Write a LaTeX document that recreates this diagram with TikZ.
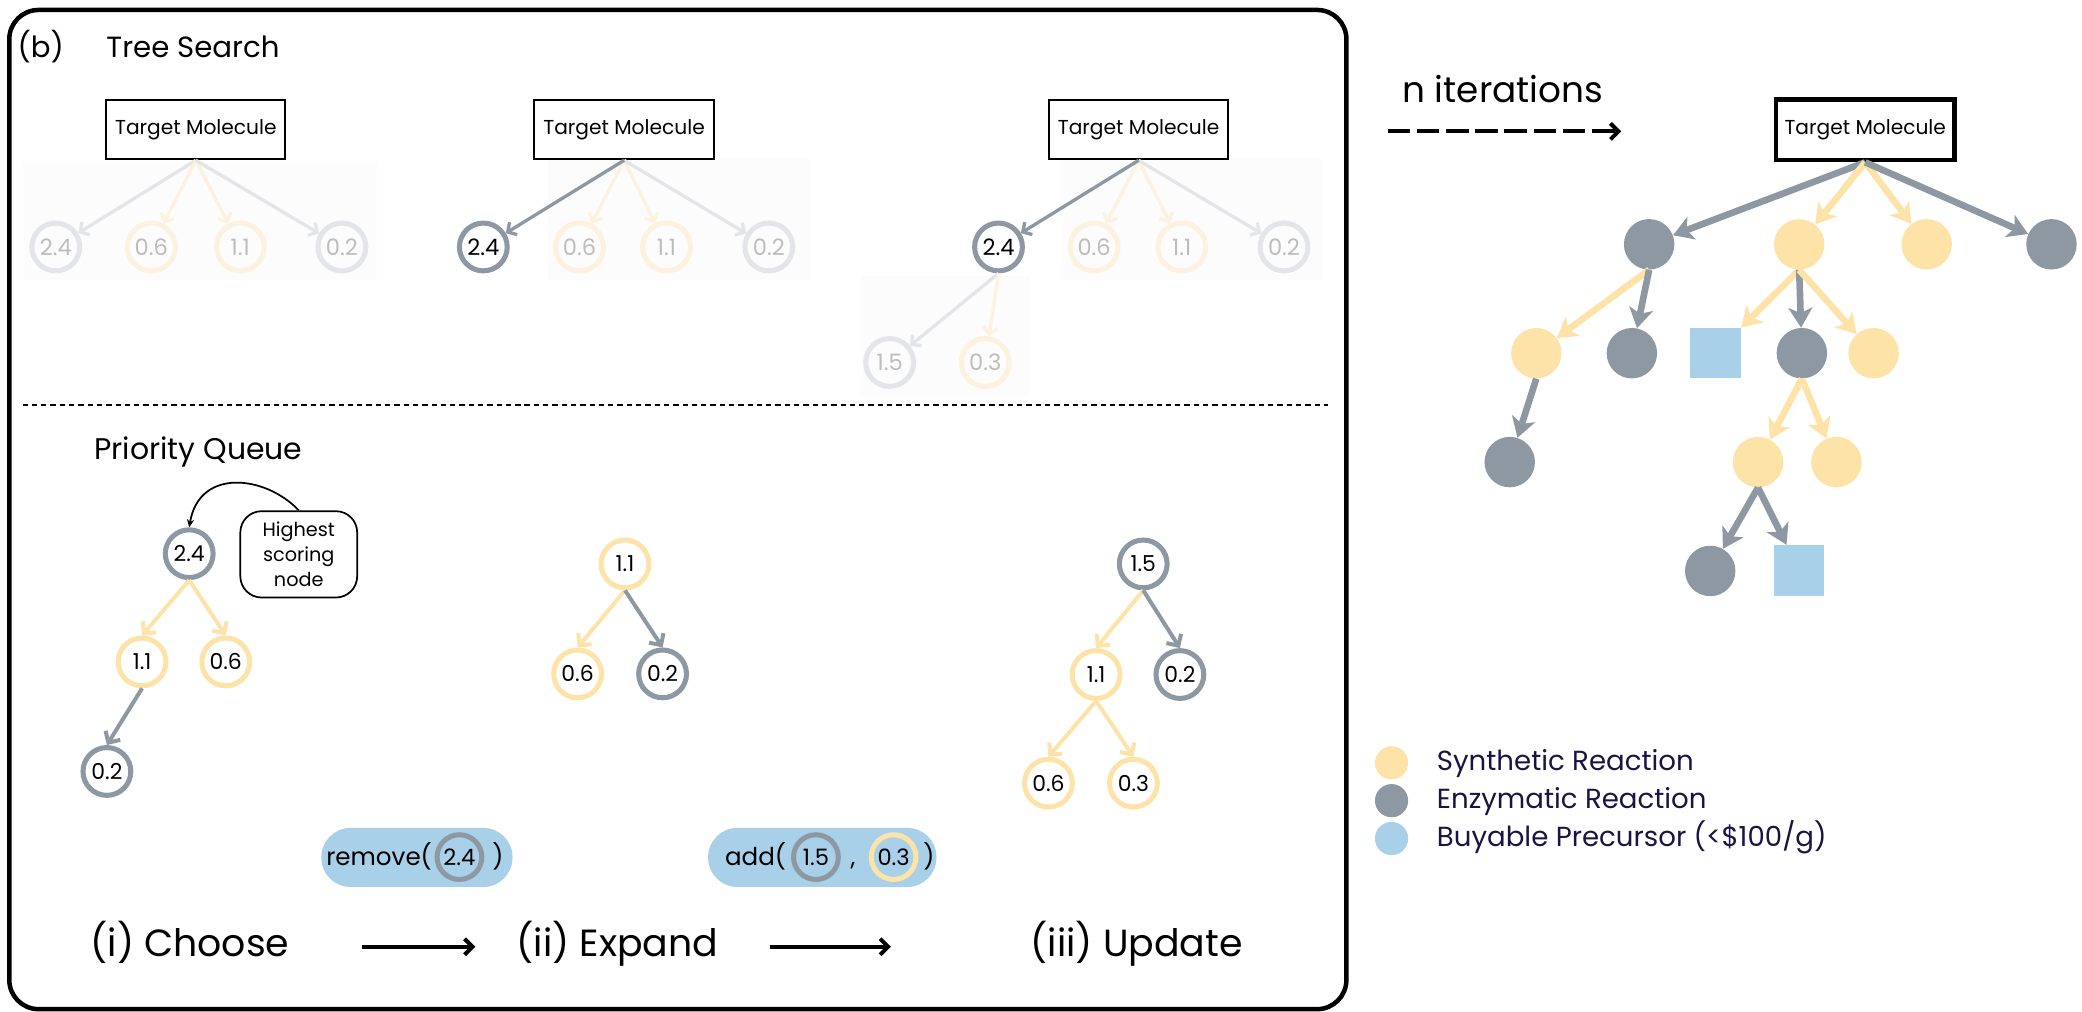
\documentclass[tikz,border=0pt]{standalone}
\usepackage{fontspec}
\setmainfont{Poppins}
\usetikzlibrary{arrows.meta}
\definecolor{cgray}{HTML}{8E98A2}
\definecolor{cyel}{HTML}{FEE3A9}
\definecolor{cblue}{HTML}{A9D0E9}
\definecolor{fgray}{HTML}{E3E5E8}
\definecolor{fyel}{HTML}{FDF2DF}
\definecolor{ftext}{HTML}{BDBDBD}
\definecolor{navy}{HTML}{1B1442}
\definecolor{bgfaint}{HTML}{FCFCFC}
\newcommand\fsz[1]{\fontsize{#1}{#1}\selectfont}
\begin{document}
\begin{tikzpicture}[x=1pt,y=-1pt,
  ring/.style={circle,draw,line width=3.8pt,minimum size=36pt,inner sep=0pt,font=\fsz{16.5}},
  gring/.style={ring,draw=cgray},
  yring/.style={ring,draw=cyel},
  fgring/.style={ring,draw=fgray,text=ftext,font=\fsz{17}},
  fyring/.style={ring,draw=fyel,text=ftext,font=\fsz{17}},
  sgring/.style={ring,draw=cgray,font=\fsz{17}},
  tbox/.style={draw,line width=1.5pt,minimum width=135pt,minimum height=45pt,inner sep=0pt,font=\fsz{15.2}},
  tedge/.style={line width=2.5pt,-{Straight Barb[length=5pt,width=11pt]}},
  qedge/.style={line width=3pt,-{Straight Barb[length=6.5pt,width=13pt]}},
  dotn/.style={circle,minimum size=38pt,inner sep=0pt},
  gdot/.style={dotn,fill=cgray},
  ydot/.style={dotn,fill=cyel},
  bsq/.style={rectangle,minimum size=38pt,inner sep=0pt,fill=cblue},
  bedge/.style={line width=5pt,-{Stealth[length=15pt,width=18pt,inset=4pt]}},
  pill/.style={rectangle,rounded corners=22pt,fill=cblue,minimum width=#1,minimum height=44.5pt,inner sep=0pt},
  ptext/.style={anchor=base,font=\fsz{18.5},inner sep=0pt},
  pring/.style={ring,minimum size=33.7pt,font=\fsz{17}},
  lbl/.style={anchor=base west,inner sep=0pt},
  legdot/.style={circle,minimum size=25pt,inner sep=0pt},
]
\useasboundingbox (0,0) rectangle (1568,762);

% frame and separator
\draw[line width=3.4pt,rounded corners=22pt] (7,7.5) rectangle (1014,760);
\draw[line width=1.2pt,dash pattern=on 4pt off 3pt] (17,305) -- (1000,305);

% faint backgrounds
\fill[bgfaint] (17,123) rectangle (284,211);
\fill[bgfaint] (413,120) rectangle (611,211);
\fill[bgfaint] (800,120) rectangle (996,211);
\fill[bgfaint] (649,208) rectangle (776,299);

% titles
\node[lbl,font=\fsz{22}] (blab) at (13,43) {(b)};
\node[lbl,font=\fsz{22}] (tslab) at (80,43) {Tree Search};
\node[lbl,font=\fsz{22.5}] (pqlab) at (71,346) {Priority Queue};

% ---------- tree 1
\node[tbox] (t1) at (147.5,97.5) {Target Molecule};
\node[fgring] (t1a) at (42,186) {2.4};
\node[fyring] (t1b) at (114,186) {0.6};
\node[fyring] (t1c) at (181,186) {1.1};
\node[fgring] (t1d) at (257.5,186) {0.2};
\draw[tedge,draw=fgray] (t1.south) -- (t1a);
\draw[tedge,draw=fyel] (t1.south) -- (t1b);
\draw[tedge,draw=fyel] (t1.south) -- (t1c);
\draw[tedge,draw=fgray] (t1.south) -- (t1d);

% ---------- tree 2
\node[tbox] (t2) at (470,97.5) {Target Molecule};
\node[sgring] (t2a) at (364,186) {2.4};
\node[fyring] (t2b) at (436.5,186) {0.6};
\node[fyring] (t2c) at (502,186) {1.1};
\node[fgring] (t2d) at (579,186) {0.2};
\draw[tedge,draw=fyel] (t2.south) -- (t2b);
\draw[tedge,draw=fyel] (t2.south) -- (t2c);
\draw[tedge,draw=fgray] (t2.south) -- (t2d);
\draw[tedge,draw=cgray] (t2.south) -- (t2a);

% ---------- tree 3
\node[tbox] (t3) at (857.5,97.5) {Target Molecule};
\node[sgring] (t3a) at (752,186) {2.4};
\node[fyring] (t3b) at (824,186) {0.6};
\node[fyring] (t3c) at (890,186) {1.1};
\node[fgring] (t3d) at (967,186) {0.2};
\node[fgring] (t3e) at (670,273) {1.5};
\node[fyring] (t3f) at (742,273) {0.3};
\draw[tedge,draw=fyel] (t3.south) -- (t3b);
\draw[tedge,draw=fyel] (t3.south) -- (t3c);
\draw[tedge,draw=fgray] (t3.south) -- (t3d);
\draw[tedge,draw=cgray] (t3.south) -- (t3a);
\draw[tedge,draw=fgray] (t3a.south) -- (t3e);
\draw[tedge,draw=fyel] (t3a.south) -- (t3f);

% ---------- (i) choose
\node[gring] (c24) at (142.5,417) {2.4};
\node[yring] (c11) at (107,498.5) {1.1};
\node[yring] (c06) at (170,498.5) {0.6};
\node[gring] (c02) at (80.5,581) {0.2};
\draw[qedge,draw=cyel] (c24.south) -- (c11.north);
\draw[qedge,draw=cyel] (c24.south) -- (c06.north);
\draw[qedge,draw=cgray] (c11.south) -- (c02.north);
\node[draw,line width=1.3pt,rounded corners=16pt,minimum width=88pt,minimum height=65pt,
  align=center,inner sep=0pt,font=\fontsize{14.5}{18.8}\selectfont] (call) at (225,417.5)
  {Highest\\scoring\\node};
\draw[line width=1.3pt,-{Stealth[length=6pt,width=5.5pt]}] (call.north)
  .. controls (200,358) and (150,352) .. (c24.north);

% ---------- (ii) expand
\node[yring] (e11) at (470.7,424.7) {1.1};
\node[yring] (e06) at (435,507.5) {0.6};
\node[gring] (e02) at (499,507.5) {0.2};
\draw[qedge,draw=cyel] (e11.south) -- (e06.north);
\draw[qedge,draw=cgray] (e11.south) -- (e02.north);

% ---------- (iii) update
\node[gring] (u15) at (861,424.7) {1.5};
\node[yring] (u11) at (825.5,508) {1.1};
\node[gring] (u02) at (888.6,508) {0.2};
\node[yring] (u06) at (789.6,589.8) {0.6};
\node[yring] (u03) at (853.6,589.8) {0.3};
\draw[qedge,draw=cyel] (u15.south) -- (u11.north);
\draw[qedge,draw=cgray] (u15.south) -- (u02.north);
\draw[qedge,draw=cyel] (u11.south) -- (u06.north);
\draw[qedge,draw=cyel] (u11.south) -- (u03.north);

% ---------- pills
\node[pill=144pt] (rmpill) at (314,645.75) {};
\node[ptext] (rmtxt) at (285.5,651.5) {remove(};
\node[pring,draw=cgray] (rm24) at (346,645.5) {2.4};
\node[ptext] (rmclose) at (375,651.5) {)};

\node[pill=172pt] (adpill) at (619.3,645.75) {};
\node[ptext] (adtxt) at (569,651.5) {add(};
\node[pring,draw=cgray] (ad15) at (614.5,645.5) {1.5};
\node[ptext] (adcomma) at (642.5,651.5) {,};
\node[pring,draw=cyel] (ad03) at (673,645.5) {0.3};
\node[ptext] (adclose) at (699.6,651.5) {)};

% ---------- step labels
\node[lbl,font=\fsz{28.5}] (s1) at (68,720.5) {(i) Choose};
\node[lbl,font=\fsz{28.5}] (s2) at (389,720.5) {(ii) Expand};
\node[lbl,font=\fsz{28.5}] (s3) at (776,720.5) {(iii) Update};
\coordinate (a1s) at (272.6,713);
\coordinate (a1e) at (358,713);
\coordinate (a2s) at (580,713);
\coordinate (a2e) at (671,713);
\draw[line width=3pt,-{Straight Barb[length=6pt,width=12pt]}] (a1s) -- (a1e);
\draw[line width=3pt,-{Straight Barb[length=6pt,width=12pt]}] (a2s) -- (a2e);

% ---------- right side
\node[lbl,font=\fsz{27}] (niter) at (1056,77) {n iterations};
\coordinate (da) at (1045,99);
\coordinate (db) at (1221,99);
\draw[line width=3pt,dash pattern=on 17pt off 5pt,-{Straight Barb[length=6pt,width=12pt]}] (da) -- (db);

\node[tbox,line width=3.5pt,minimum width=134.5pt,minimum height=45.5pt] (r) at (1404.75,97.75) {Target Molecule};
\node[gdot] (g1) at (1242,184) {};
\node[ydot] (y1) at (1355,184) {};
\node[ydot] (y2) at (1451,184) {};
\node[gdot] (g2) at (1545,184) {};
\node[ydot] (y3) at (1157,266) {};
\node[gdot] (g3) at (1229,266) {};
\node[bsq]  (s1q) at (1292,266) {};
\node[gdot] (g4) at (1357,266) {};
\node[ydot] (y4) at (1411,266) {};
\node[gdot] (g5) at (1137,348) {};
\node[ydot] (y5) at (1324,348) {};
\node[ydot] (y6) at (1383,348) {};
\node[gdot] (g6) at (1288,430) {};
\node[bsq]  (s2q) at (1355,429.5) {};

\draw[bedge,draw=cgray,fill=cgray] (r.south) -- (g1);
\draw[bedge,draw=cyel,fill=cyel] (r.south) -- (y1);
\draw[bedge,draw=cyel,fill=cyel] (r.south) -- (y2);
\draw[bedge,draw=cgray,fill=cgray] (r.south) -- (g2);
\draw[bedge,draw=cyel,fill=cyel] (g1.south) -- (y3);
\draw[bedge,draw=cgray,fill=cgray] (g1.south) -- (g3);
\draw[bedge,draw=cyel,fill=cyel] (y1.south) -- (s1q);
\draw[bedge,draw=cgray,fill=cgray] (y1.south) -- (g4);
\draw[bedge,draw=cyel,fill=cyel] (y1.south) -- (y4);
\draw[bedge,draw=cgray,fill=cgray] (y3.south) -- (g5);
\draw[bedge,draw=cyel,fill=cyel] (g4.south) -- (y5);
\draw[bedge,draw=cyel,fill=cyel] (g4.south) -- (y6);
\draw[bedge,draw=cgray,fill=cgray] (y5.south) -- (g6);
\draw[bedge,draw=cgray,fill=cgray] (y5.south) -- (s2q);

% ---------- legend
\node[legdot,fill=cyel] (l1) at (1048,574.5) {};
\node[legdot,fill=cgray] (l2) at (1048,603) {};
\node[legdot,fill=cblue] (l3) at (1048,631.5) {};
\node[lbl,font=\fsz{20.8},text=navy] (l1t) at (1082,580.5) {Synthetic Reaction};
\node[lbl,font=\fsz{20.8},text=navy] (l2t) at (1082,609) {Enzymatic Reaction};
\node[lbl,font=\fsz{20.8},text=navy] (l3t) at (1082,637.5) {Buyable Precursor (<\$100/g)};
\end{tikzpicture}
\end{document}
